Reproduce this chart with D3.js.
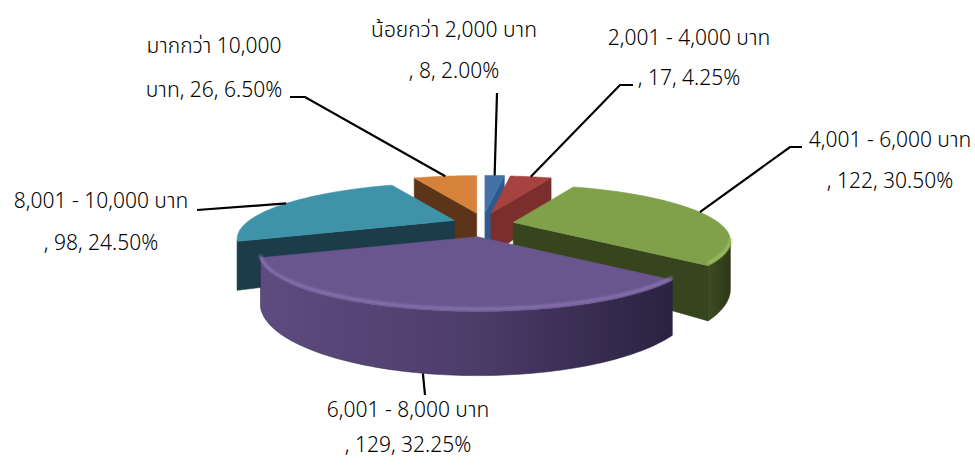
<!DOCTYPE html>
<html>
<head>
<meta charset="utf-8">
<script src="https://cdn.jsdelivr.net/npm/d3@7"></script>
<style>
  html, body { margin: 0; padding: 0; background: #ffffff; }
  svg { display: block; }
  .lbl { font-family: "Noto Sans", "Noto Sans Thai", "DejaVu Sans", sans-serif; font-size: 21px; font-weight: 300; fill: #000; }
</style>
</head>
<body>
<svg id="chart" width="975" height="472"></svg>
<script>
// ---- data -------------------------------------------------------------
const categories = [
  "น้อยกว่า 2,000 บาท",
  "2,001 - 4,000 บาท",
  "4,001 - 6,000 บาท",
  "6,001 - 8,000 บาท",
  "8,001 - 10,000 บาท",
  "มากกว่า 10,000 บาท"
];
const counts = [8, 17, 122, 129, 98, 26];

// ---- colours ----------------------------------------------------------
const topColors  = ["#4371a8", "#a6423f", "#80a049", "#6a568f", "#3e93a9", "#d6823a"];
const sideColors = ["#2e5b8f", "#7c2e2c", "#37451e", "#3e3258", "#1b3c48", "#5c3518"];
const wallStops  = [
  ["#3a6aa0", "#2b5282"],
  ["#8a3532", "#6a2725"],
  ["#3d4c21", "#2d3817"],
  ["#5e4b80", "#4d3d6b", "#2a2240"],
  ["#225264", "#1b3c48"],
  ["#6a3d1b", "#5c3518"]
];
const rimColors  = ["#6a93c8", "#c46a66", "#a3c46a", "#8d78b4", "#66b5c9", "#f0a363"];

// ---- label layout -----------------------------------------------------
// center x, baselines of the two lines, leader bend points, whether the
// leader starts from the bottom rim, and where the text wraps
const labelLayout = [
  { x: 454, y: [37, 78],   bends: [[497, 93]],              fromBottom: false, wrap: "category" },
  { x: 689, y: [45, 85],   bends: [[620, 85], [633, 85]],   fromBottom: false, wrap: "category" },
  { x: 890, y: [147, 188], bends: [[790, 147], [802, 147]], fromBottom: false, wrap: "category" },
  { x: 408, y: [417, 452], bends: [[425, 395]],             fromBottom: true,  wrap: "category" },
  { x: 101, y: [208, 250], bends: [[197, 210]],             fromBottom: false, wrap: "category" },
  { x: 214, y: [53, 97],   bends: [[305, 97], [290, 97]],   fromBottom: false, wrap: "lastSpace" }
];

// ---- 3D projection ----------------------------------------------------
const cx = 483, cy = 225;     // pie centre on screen
const radX = 205, radZ = 50;  // half axes of the top ellipse
const persp = 0.33;           // perspective strength (back smaller)
const depth = 43;             // slab thickness
const explodeX = 31, explodeY = 12;

const xScale = d3.scaleLinear().domain([-1, 1]).range([cx - radX, cx + radX]);
const zScale = d3.scaleLinear().domain([-1, 1]).range([cy + radZ, cy - radZ]);

function project(theta, rho, bottom) {
  const x = rho * Math.sin(theta);
  const z = rho * Math.cos(theta);
  const s = 1 / (1 + persp * z);
  return [xScale(x * s), zScale(z * s) + (bottom ? depth * s : 0)];
}

function signedArea(pts) {
  let a = 0;
  for (let i = 0; i < pts.length; i++) {
    const p = pts[i], q = pts[(i + 1) % pts.length];
    a += p[0] * q[1] - q[0] * p[1];
  }
  return a / 2;
}

const total = d3.sum(counts);
const arcs = d3.pie().sort(null).value(d => d)(counts);

const svg = d3.select("#chart");
const defs = svg.append("defs");
defs.append("filter").attr("id", "soft")
  .attr("x", "-10%").attr("y", "-10%").attr("width", "120%").attr("height", "120%")
  .append("feGaussianBlur").attr("stdDeviation", 1.3);

const closed = d3.line().curve(d3.curveLinearClosed);
const open = d3.line();

const slices = arcs.map((a, i) => {
  const mid = (a.startAngle + a.endAngle) / 2;
  const dx = explodeX * Math.sin(mid), dy = -explodeY * Math.cos(mid);
  const n = Math.max(4, Math.ceil((a.endAngle - a.startAngle) / (Math.PI / 180)));
  const thetas = d3.range(n + 1).map(k => a.startAngle + (a.endAngle - a.startAngle) * k / n);
  const sh = p => [p[0] + dx, p[1] + dy];
  const topArc = thetas.map(t => sh(project(t, 1, false)));
  const botArc = thetas.map(t => sh(project(t, 1, true)));
  const apexT = sh(project(0, 0, false)), apexB = sh(project(0, 0, true));
  const depthKey = Math.cos(mid);
  return { a, i, mid, dx, dy, thetas, topArc, botArc, apexT, apexB, depthKey };
});

// back slices first
const order = slices.slice().sort((p, q) => q.depthKey - p.depthKey);

const g = svg.append("g");
order.forEach(sl => {
  const sg = g.append("g").attr("class", "slice");
  const i = sl.i;

  // radial faces
  const startFace = [sl.apexT, sl.topArc[0], sl.botArc[0], sl.apexB];
  const last = sl.topArc.length - 1;
  const endFace = [sl.topArc[last], sl.apexT, sl.apexB, sl.botArc[last]];
  const faces = [];
  if (signedArea(startFace) < 0) faces.push({ pts: startFace, z: Math.cos(sl.a.startAngle) });
  if (signedArea(endFace) < 0) faces.push({ pts: endFace, z: Math.cos(sl.a.endAngle) });

  // outer wall: contiguous run of front-facing segments
  const vis = [];
  for (let k = 0; k < last; k++) {
    const q = [sl.topArc[k], sl.topArc[k + 1], sl.botArc[k + 1], sl.botArc[k]];
    vis.push(signedArea(q) < 0);
  }
  const runs = [];
  let cur = null;
  vis.forEach((v, k) => {
    if (v) { if (!cur) { cur = [k, k + 1]; runs.push(cur); } else cur[1] = k + 1; }
    else cur = null;
  });

  faces.sort((p, q) => q.z - p.z).forEach(f => {
    sg.append("path").attr("d", closed(f.pts)).attr("fill", sideColors[i])
      .attr("stroke", sideColors[i]).attr("stroke-width", 0.6);
  });

  runs.forEach((r, ri) => {
    const topPts = sl.topArc.slice(r[0], r[1] + 1);
    const botPts = sl.botArc.slice(r[0], r[1] + 1).reverse();
    const pts = topPts.concat(botPts);
    const xs = pts.map(p => p[0]);
    const gid = `wall-${i}-${ri}`;
    const stops = wallStops[i];
    const lg = defs.append("linearGradient").attr("id", gid)
      .attr("gradientUnits", "userSpaceOnUse")
      .attr("x1", d3.min(xs)).attr("x2", d3.max(xs)).attr("y1", 0).attr("y2", 0);
    stops.forEach((c, k) => lg.append("stop").attr("offset", k / (stops.length - 1)).attr("stop-color", c));
    sg.append("path").attr("d", closed(pts)).attr("fill", `url(#${gid})`)
      .attr("stroke", stops[stops.length - 1]).attr("stroke-width", 0.5);
  });

  // top face
  const topPts = [sl.apexT].concat(sl.topArc);
  sg.append("path").attr("d", closed(topPts)).attr("fill", topColors[i])
    .attr("stroke", topColors[i]).attr("stroke-width", 0.6);

  // rounded rim highlight on the front edge
  runs.forEach(r => {
    const rim = sl.topArc.slice(r[0], r[1] + 1).map(p => [p[0], p[1] - 2.5]);
    sg.append("path").attr("d", open(rim)).attr("fill", "none")
      .attr("stroke", rimColors[i]).attr("stroke-width", 3)
      .attr("stroke-opacity", 0.8).attr("filter", "url(#soft)");
  });
});

// ---- labels and leader lines -----------------------------------------
const labels = svg.append("g");
slices.forEach(sl => {
  const i = sl.i, L = labelLayout[i];
  const pct = (counts[i] / total * 100).toFixed(2) + "%";
  const full = `${categories[i]}, ${counts[i]}, ${pct}`;
  let cut = categories[i].length;
  if (L.wrap === "lastSpace") cut = categories[i].lastIndexOf(" ") + 1;
  const lines = [full.slice(0, cut).trimEnd(), full.slice(cut)];

  const edge = project(sl.mid, 1, L.fromBottom);
  const start = [edge[0] + sl.dx, edge[1] + sl.dy];
  labels.append("path").attr("d", open([start].concat(L.bends)))
    .attr("fill", "none").attr("stroke", "#000").attr("stroke-width", 2.2);

  lines.forEach((t, k) => {
    labels.append("text").attr("class", "lbl")
      .attr("x", L.x).attr("y", L.y[k]).attr("text-anchor", "middle").text(t);
  });
});
</script>
</body>
</html>
